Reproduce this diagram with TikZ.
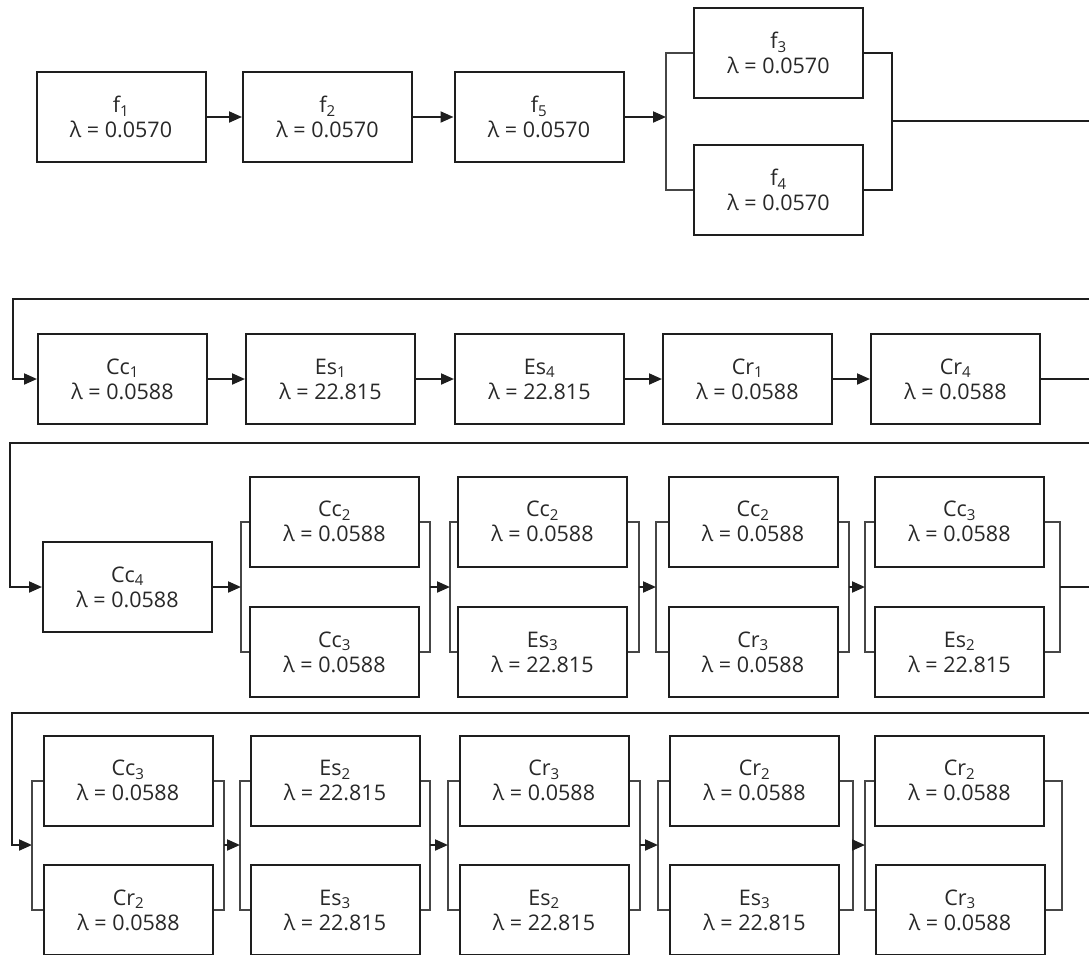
\documentclass[tikz,border=0pt]{standalone}
\usepackage{fontspec}
\setmainfont{Open Sans}
\usetikzlibrary{arrows.meta, positioning}
\definecolor{rbdline}{RGB}{30,30,30}
\definecolor{rbdbar}{RGB}{70,70,70}
\definecolor{rbdtext}{RGB}{40,40,40}
\tikzset{
  %% ---- boxes ----
  comp/.style  = {rectangle, draw=rbdline, line width=2pt,
                  fill=white, minimum width=169pt, minimum height=90pt,
                  inner sep=0pt, align=center, text=rbdtext,
                  font=\fontsize{21.5}{25}\selectfont},
  %% ---- lines ----
  arrow/.style = {-{Triangle[length=13pt,width=11pt]}, line width=2pt,
                  color=rbdline},
  link/.style  = {line width=2pt, color=rbdline},
  bar/.style   = {line width=2pt, color=rbdbar},
}
\begin{document}
\begin{tikzpicture}[x=1pt, y=-1pt]
  \useasboundingbox (0,0) rectangle (1089,954);

  %% Row 1: f-blocks in series, then f3 || f4
  \node[comp] (f1) at (121,117)   {f\textsubscript{1}\\λ = 0.0570};
  \node[comp] (f2) at (327.5,117) {f\textsubscript{2}\\λ = 0.0570};
  \node[comp] (f5) at (539,117)   {f\textsubscript{5}\\λ = 0.0570};
  \node[comp] (f3) at (778.5,53)  {f\textsubscript{3}\\λ = 0.0570};
  \node[comp] (f4) at (778.5,190) {f\textsubscript{4}\\λ = 0.0570};
  \coordinate (fL) at (666,117);
  \coordinate (fR) at (892,121);
  \draw[arrow] (f1) -- (f2);
  \draw[arrow] (f2) -- (f5);
  \draw[arrow] (f5) -- (fL);
  \draw[bar] (f3.west) -| (fL) |- (f4.west);
  \draw[link] (f3.east) -| (fR) |- (f4.east);

  %% Row 2: series chain
  \node[comp] (cc1) at (122.5,379) {Cc\textsubscript{1}\\λ = 0.0588};
  \node[comp] (es1) at (330.5,379) {Es\textsubscript{1}\\λ = 22.815};
  \node[comp] (es4) at (539.5,379) {Es\textsubscript{4}\\λ = 22.815};
  \node[comp] (cr1) at (747.5,379) {Cr\textsubscript{1}\\λ = 0.0588};
  \node[comp] (cr4) at (955.5,379) {Cr\textsubscript{4}\\λ = 0.0588};
  \coordinate (edge1) at (1089.5,121);
  \coordinate (r2in) at (13,299);
  \draw[arrow] (fR) -- (edge1) |- (r2in) |- (cc1.west);
  \draw[arrow] (cc1) -- (es1);
  \draw[arrow] (es1) -- (es4);
  \draw[arrow] (es4) -- (cr1);
  \draw[arrow] (cr1) -- (cr4);

  %% Row 3: Cc4, then four parallel pairs
  \node[comp] (cc4) at (127.5,587) {Cc\textsubscript{4}\\λ = 0.0588};
  \node[comp] (pa1) at (334.5,521.5) {Cc\textsubscript{2}\\λ = 0.0588};
  \node[comp] (pa2) at (334.5,652)   {Cc\textsubscript{3}\\λ = 0.0588};
  \node[comp] (pb1) at (542.5,521.5) {Cc\textsubscript{2}\\λ = 0.0588};
  \node[comp] (pb2) at (542.5,652)   {Es\textsubscript{3}\\λ = 22.815};
  \node[comp] (pc1) at (753,521.5)   {Cc\textsubscript{2}\\λ = 0.0588};
  \node[comp] (pc2) at (753,652)     {Cr\textsubscript{3}\\λ = 0.0588};
  \node[comp] (pd1) at (959.5,521.5) {Cc\textsubscript{3}\\λ = 0.0588};
  \node[comp] (pd2) at (959.5,652)   {Es\textsubscript{2}\\λ = 22.815};
  \coordinate (paL) at (241,587);  \coordinate (paR) at (430,587);
  \coordinate (pbL) at (450,587);  \coordinate (pbR) at (639,587);
  \coordinate (pcL) at (656,587);  \coordinate (pcR) at (849,587);
  \coordinate (pdL) at (865,587);  \coordinate (pdR) at (1060,587);
  \coordinate (edge2) at (1089.5,379);
  \coordinate (r3in) at (10,443);
  \draw[arrow] (cr4) -- (edge2) |- (r3in) |- (cc4.west);
  \draw[bar] (pa1.west) -| (paL) |- (pa2.west);
  \draw[bar] (pa1.east) -| (paR) |- (pa2.east);
  \draw[bar] (pb1.west) -| (pbL) |- (pb2.west);
  \draw[bar] (pb1.east) -| (pbR) |- (pb2.east);
  \draw[bar] (pc1.west) -| (pcL) |- (pc2.west);
  \draw[bar] (pc1.east) -| (pcR) |- (pc2.east);
  \draw[bar] (pd1.west) -| (pdL) |- (pd2.west);
  \draw[bar] (pd1.east) -| (pdR) |- (pd2.east);
  \draw[arrow] (cc4) -- (paL);
  \draw[arrow] (paR) -- (pbL);
  \draw[arrow] (pbR) -- (pcL);
  \draw[arrow] (pcR) -- (pdL);

  %% Row 4: five parallel pairs
  \node[comp] (pe1) at (128,780.5)   {Cc\textsubscript{3}\\λ = 0.0588};
  \node[comp] (pe2) at (128.5,910)   {Cr\textsubscript{2}\\λ = 0.0588};
  \node[comp] (pf1) at (335,780.5)   {Es\textsubscript{2}\\λ = 22.815};
  \node[comp] (pf2) at (335,910)     {Es\textsubscript{3}\\λ = 22.815};
  \node[comp] (pg1) at (544,780.5)   {Cr\textsubscript{3}\\λ = 0.0588};
  \node[comp] (pg2) at (544,910)     {Es\textsubscript{2}\\λ = 22.815};
  \node[comp] (ph1) at (754.5,780.5) {Cr\textsubscript{2}\\λ = 0.0588};
  \node[comp] (ph2) at (754.5,910)   {Es\textsubscript{3}\\λ = 22.815};
  \node[comp] (pi1) at (959.5,780.5) {Cr\textsubscript{2}\\λ = 0.0588};
  \node[comp] (pi2) at (960,910)     {Cr\textsubscript{3}\\λ = 0.0588};
  \coordinate (peL) at (32,845);   \coordinate (peR) at (224,845);
  \coordinate (pfL) at (240,845);  \coordinate (pfR) at (430,845);
  \coordinate (pgL) at (448,845);  \coordinate (pgR) at (640,845);
  \coordinate (phL) at (658,845);  \coordinate (phR) at (853,845);
  \coordinate (piL) at (865,845);  \coordinate (piR) at (1062,845);
  \coordinate (edge3) at (1089.5,587);
  \coordinate (r4in) at (12,713);
  \draw[arrow] (pdR) -- (edge3) |- (r4in) |- (peL);
  \draw[bar] (pe1.west) -| (peL) |- (pe2.west);
  \draw[bar] (pe1.east) -| (peR) |- (pe2.east);
  \draw[bar] (pf1.west) -| (pfL) |- (pf2.west);
  \draw[bar] (pf1.east) -| (pfR) |- (pf2.east);
  \draw[bar] (pg1.west) -| (pgL) |- (pg2.west);
  \draw[bar] (pg1.east) -| (pgR) |- (pg2.east);
  \draw[bar] (ph1.west) -| (phL) |- (ph2.west);
  \draw[bar] (ph1.east) -| (phR) |- (ph2.east);
  \draw[bar] (pi1.west) -| (piL) |- (pi2.west);
  \draw[bar] (pi1.east) -| (piR) |- (pi2.east);
  \draw[arrow] (peR) -- (pfL);
  \draw[arrow] (pfR) -- (pgL);
  \draw[arrow] (pgR) -- (phL);
  \draw[arrow] (phR) -- (piL);
\end{tikzpicture}
\end{document}
